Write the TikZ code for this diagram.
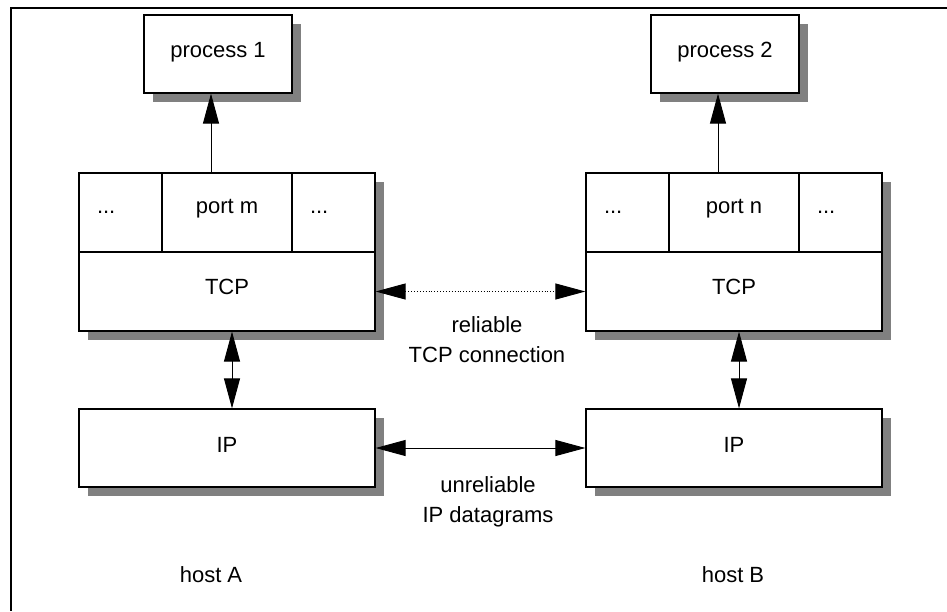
\documentclass[tikz,border=0pt]{standalone}
\usepackage{fontspec}
\setmainfont{Liberation Sans}
\usepackage{tikz}
\usetikzlibrary{arrows.meta,positioning,calc,shadows}

\tikzset{
  bigtip/.tip={Triangle[length=30pt,width=16pt]},
  layerbox/.style={draw,line width=1.2pt,fill=white,inner sep=0pt,
    font=\fontsize{22}{29}\selectfont,text height=16pt,text depth=#1},
  layerbox/.default=10pt,
  shade/.style={general shadow={fill=black!50,shadow xshift=9pt,shadow yshift=-9pt}},
  dotcell/.style={layerbox=15pt,minimum height=79pt,text width=47pt,
    inner xsep=18pt,align=left},
  caption/.style={font=\fontsize{22}{30}\selectfont,align=center,inner sep=0pt}
}

\begin{document}
\begin{tikzpicture}[x=1pt,y=-1pt]
\useasboundingbox (0,0) rectangle (947,611);
\draw[line width=1.2pt] (947,8) -- (11,8) -- (11,611);

% host A
\node[layerbox,shade,minimum width=148pt,minimum height=78pt] (procA) at (218,54) {process 1};
\node[dotcell] (cellAl) at (120.5,212.5) {...};
\node[layerbox=15pt,minimum width=130pt,minimum height=79pt] (portA) at (227,212.5) {port m};
\node[dotcell,shade] (cellAr) at (333.5,212.5) {...};
\node[layerbox,shade,minimum width=296pt,minimum height=79pt] (tcpA) at (227,291.5) {TCP};
\node[layerbox=8pt,shade,minimum width=296pt,minimum height=78pt] (ipA) at (227,448) {IP};
\node[caption,anchor=base] (hostA) at (211,582) {host A};

% host B
\node[layerbox,shade,minimum width=148pt,minimum height=78pt] (procB) at (725,54) {process 2};
\node[dotcell] (cellBl) at (627.5,212.5) {...};
\node[layerbox=15pt,minimum width=130pt,minimum height=79pt] (portB) at (734,212.5) {port n};
\node[dotcell,shade] (cellBr) at (840.5,212.5) {...};
\node[layerbox,shade,minimum width=296pt,minimum height=79pt] (tcpB) at (734,291.5) {TCP};
\node[layerbox=8pt,shade,minimum width=296pt,minimum height=78pt] (ipB) at (734,448) {IP};
\node[caption,anchor=base] (hostB) at (733,582) {host B};

% connections
\draw[line width=0.9pt,-bigtip] ([xshift=-16pt]portA.north) -- ([xshift=-16pt]portA.north |- procA.south);
\draw[line width=0.9pt,-bigtip] ([xshift=-16pt]portB.north) -- ([xshift=-16pt]portB.north |- procB.south);
\draw[line width=0.9pt,bigtip-bigtip] ([xshift=5pt]tcpA.south) -- ([xshift=5pt]tcpA.south |- ipA.north);
\draw[line width=0.9pt,bigtip-bigtip] ([xshift=5pt]tcpB.south) -- ([xshift=5pt]tcpB.south |- ipB.north);
\draw[line width=0.9pt,dotted,bigtip-bigtip] (tcpA.east) -- (tcpB.west);
\draw[line width=0.9pt,bigtip-bigtip] (ipA.east) -- (ipB.west);

\node[caption,anchor=north] (tcplink) at (487,316) {reliable\\TCP connection};
\node[caption,anchor=north] (iplink) at (488,476) {unreliable\\IP datagrams};
\end{tikzpicture}
\end{document}
